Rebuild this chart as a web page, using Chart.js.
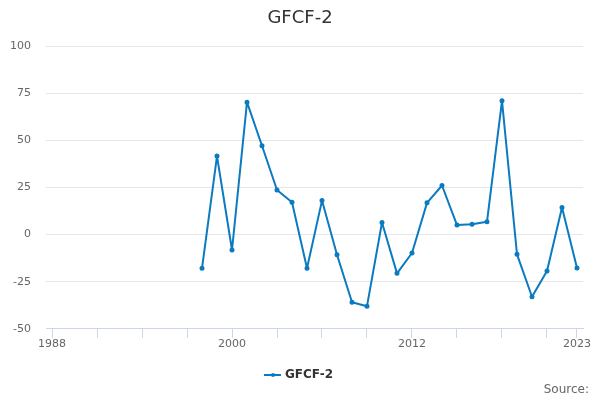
<!DOCTYPE html>
<html>
<head>
<meta charset="utf-8">
<script src="https://cdn.jsdelivr.net/npm/chart.js@4"></script>
<style>
  html, body { margin: 0; padding: 0; background: #fff; }
  #wrap { width: 600px; height: 400px; }
</style>
</head>
<body>
<div id="wrap"><canvas id="gfcfChart" width="600" height="400"></canvas></div>
<script>
// data
const years = [1998, 1999, 2000, 2001, 2002, 2003, 2004, 2005, 2006, 2007, 2008, 2009, 2010,
               2011, 2012, 2013, 2014, 2015, 2016, 2017, 2018, 2019, 2020, 2021, 2022, 2023];
const gfcfValues = [-17.9, 41.6, -8.2, 70.2, 47.1, 23.6, 17.1, -17.9, 18, -10.7, -35.9, -38, 6.4,
                    -20.6, -9.8, 16.8, 26, 5, 5.5, 6.8, 70.9, -10.5, -33, -19.3, 14.3, -17.7];
const xTickValues = [1988, 1991, 1994, 1997, 2000, 2003, 2006, 2009, 2012, 2015, 2018, 2021, 2023];
const xLabelYears = [1988, 2000, 2012, 2023];
const yTicks = [-50, -25, 0, 25, 50, 75, 100];

const fontFamily = "'DejaVu Sans', Verdana, sans-serif";
const lineColor = '#0b7ac1';

// legend symbol: short line with a dot in the middle
const legendIcon = document.createElement('canvas');
legendIcon.width = 17;
legendIcon.height = 6;
(function () {
  const c = legendIcon.getContext('2d');
  c.strokeStyle = lineColor;
  c.fillStyle = lineColor;
  c.lineWidth = 2;
  c.beginPath();
  c.moveTo(0, 3);
  c.lineTo(17, 3);
  c.stroke();
  c.beginPath();
  c.arc(8.5, 3, 2, 0, Math.PI * 2);
  c.fill();
})();

// title centred on the page, legend re-centred, "Source:" at bottom right
const textPlugin = {
  id: 'pageText',
  afterLayout: function (chart) {
    // the right layout padding pulls the legend left; centre it on the page
    chart.legend.left += 8.5;
    chart.legend.right += 8.5;
  },
  afterDraw: function (chart) {
    const ctx = chart.ctx;
    ctx.save();
    ctx.textBaseline = 'middle';
    ctx.font = "18px " + fontFamily;
    ctx.fillStyle = '#333333';
    ctx.textAlign = 'center';
    ctx.fillText('GFCF-2', 300, 18);
    ctx.font = "12px " + fontFamily;
    ctx.fillStyle = '#666666';
    ctx.textAlign = 'right';
    ctx.fillText('Source:', 589, 390);
    ctx.restore();
  }
};

const ctx = document.getElementById('gfcfChart').getContext('2d');
const gfcfChart = new Chart(ctx, {
  type: 'line',
  data: {
    datasets: [{
      label: 'GFCF-2',
      data: years.map(function (y, i) { return { x: y, y: gfcfValues[i] }; }),
      borderColor: lineColor,
      backgroundColor: lineColor,
      borderWidth: 2,
      borderJoinStyle: 'round',
      pointRadius: 1.5,
      pointHoverRadius: 2,
      tension: 0
    }]
  },
  options: {
    responsive: false,
    animation: false,
    layout: { padding: { left: 0, right: 17, top: 46, bottom: 9 } },
    plugins: {
      title: { display: false },
      legend: {
        position: 'bottom',
        labels: {
          usePointStyle: true,
          pointStyle: legendIcon,
          boxWidth: 17,
          padding: 16,
          color: '#333333',
          font: { family: fontFamily, size: 12, weight: 'bold' }
        }
      },
      tooltip: { enabled: false }
    },
    scales: {
      x: {
        type: 'linear',
        min: 1987.6,
        max: 2023.4,
        afterBuildTicks: function (scale) {
          scale.ticks = xTickValues.map(function (v) { return { value: v }; });
        },
        afterFit: function (scale) { scale.height += 2; },
        ticks: {
          autoSkip: false,
          maxRotation: 0,
          color: '#666666',
          font: { family: fontFamily, size: 11 },
          padding: 0,
          callback: function (v) { return xLabelYears.indexOf(v) >= 0 ? String(v) : ''; }
        },
        grid: { drawOnChartArea: false, drawTicks: true, tickLength: 9, color: '#ccd6eb' },
        border: { color: '#ccd6eb', width: 1 }
      },
      y: {
        min: -50,
        max: 100,
        afterBuildTicks: function (scale) {
          scale.ticks = yTicks.map(function (v) { return { value: v }; });
        },
        afterFit: function (scale) { scale.width = 46; },
        ticks: {
          color: '#666666',
          font: { family: fontFamily, size: 11 },
          padding: 15
        },
        grid: { color: '#e6e6e6', drawTicks: false },
        border: { display: false }
      }
    }
  },
  plugins: [textPlugin]
});
</script>
</body>
</html>
